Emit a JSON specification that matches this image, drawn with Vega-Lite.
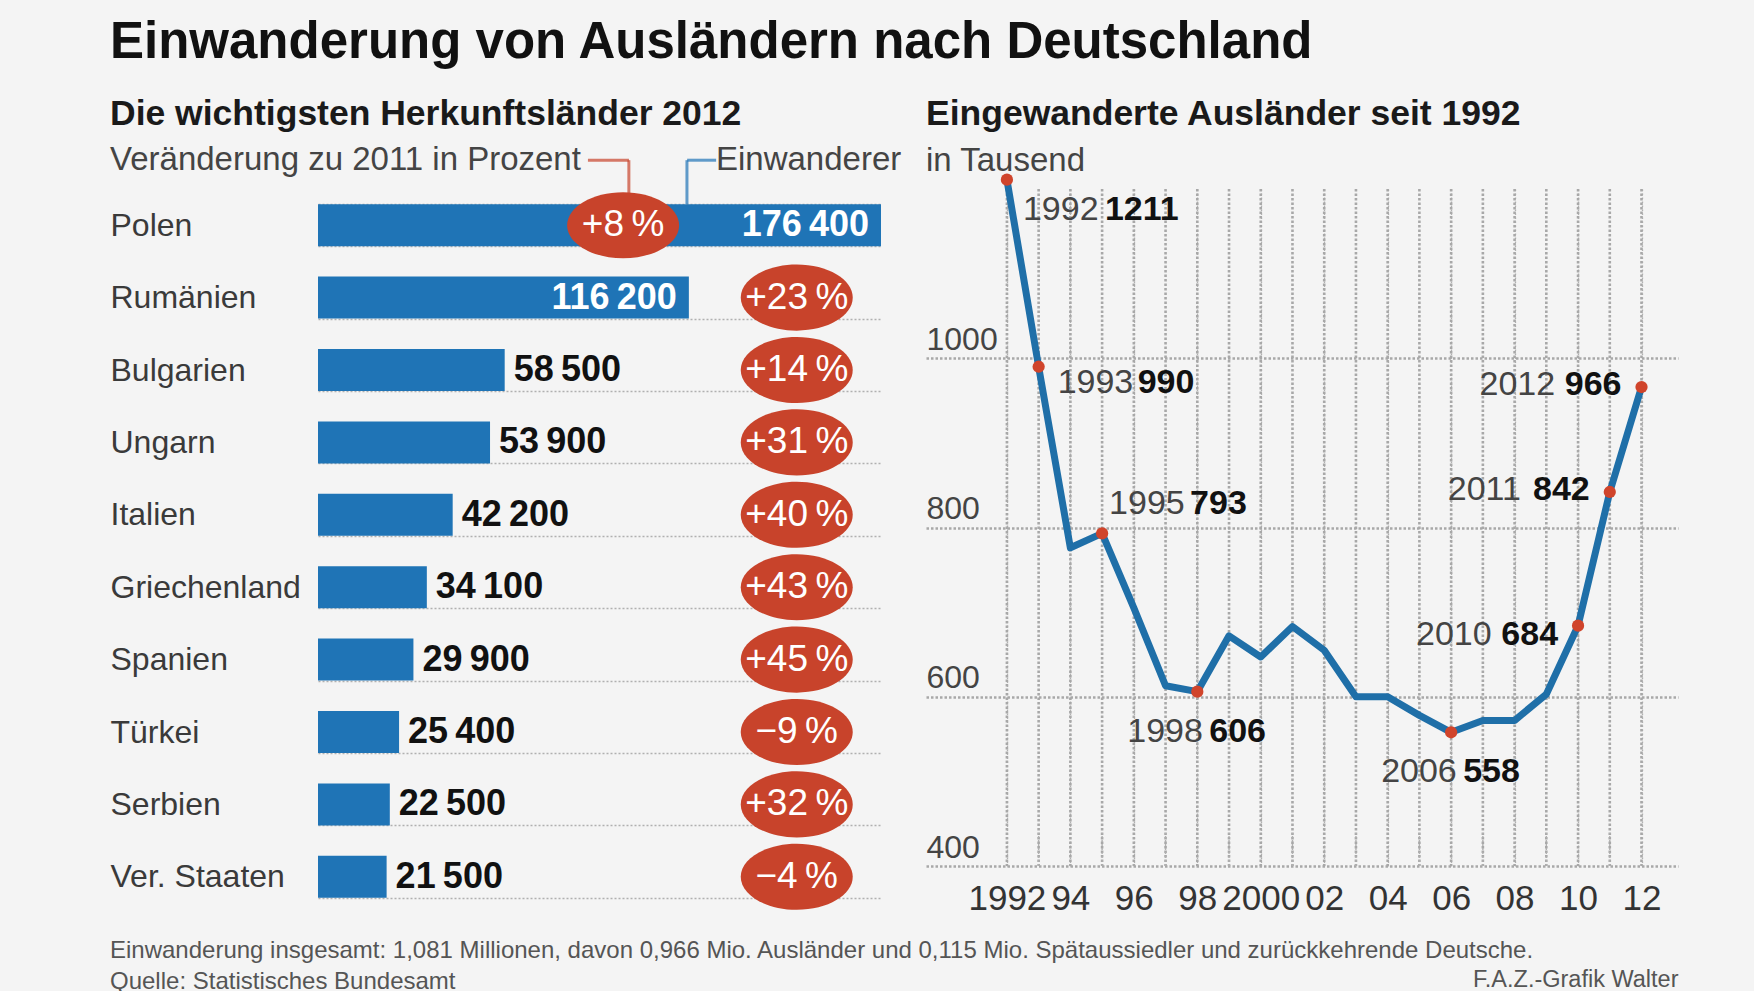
{
  "$schema": "https://vega.github.io/schema/vega-lite/v6.json",
  "background": "#f4f4f4",
  "padding": {"left": 110, "top": 16, "right": 76, "bottom": 0},
  "config": {
    "font": "Liberation Sans",
    "view": {"stroke": null},
    "locale": {"number": {"decimal": ",", "thousands": "\u2009", "grouping": [3], "currency": ["", " €"], "percent": "\u2009%", "minus": "\u2212"}}
  },
  "title": {"text": "Einwanderung von Ausländern nach Deutschland", "anchor": "start", "frame": "group", "fontSize": 51, "fontWeight": "bold", "color": "#111111", "offset": 28},
  "datasets": {
    "laender": [
      {"land": "Polen", "einwanderer": 176400, "veraenderung": 0.08},
      {"land": "Rumänien", "einwanderer": 116200, "veraenderung": 0.23},
      {"land": "Bulgarien", "einwanderer": 58500, "veraenderung": 0.14},
      {"land": "Ungarn", "einwanderer": 53900, "veraenderung": 0.31},
      {"land": "Italien", "einwanderer": 42200, "veraenderung": 0.40},
      {"land": "Griechenland", "einwanderer": 34100, "veraenderung": 0.43},
      {"land": "Spanien", "einwanderer": 29900, "veraenderung": 0.45},
      {"land": "Türkei", "einwanderer": 25400, "veraenderung": -0.09},
      {"land": "Serbien", "einwanderer": 22500, "veraenderung": 0.32},
      {"land": "Ver. Staaten", "einwanderer": 21500, "veraenderung": -0.04}
    ],
    "zuwanderung": [
      {"jahr": 1992, "tsd": 1211},
      {"jahr": 1993, "tsd": 990},
      {"jahr": 1994, "tsd": 776},
      {"jahr": 1995, "tsd": 793},
      {"jahr": 1996, "tsd": 705},
      {"jahr": 1997, "tsd": 613},
      {"jahr": 1998, "tsd": 606},
      {"jahr": 1999, "tsd": 672},
      {"jahr": 2000, "tsd": 647},
      {"jahr": 2001, "tsd": 683},
      {"jahr": 2002, "tsd": 655},
      {"jahr": 2003, "tsd": 600},
      {"jahr": 2004, "tsd": 600},
      {"jahr": 2005, "tsd": 578},
      {"jahr": 2006, "tsd": 558},
      {"jahr": 2007, "tsd": 572},
      {"jahr": 2008, "tsd": 572},
      {"jahr": 2009, "tsd": 603},
      {"jahr": 2010, "tsd": 684},
      {"jahr": 2011, "tsd": 842},
      {"jahr": 2012, "tsd": 966}
    ]
  },
  "vconcat": [
    {
      "bounds": "flush",
      "spacing": 61,
      "title": {
        "text": ["Einwanderung insgesamt: 1,081 Millionen, davon 0,966 Mio. Ausländer und 0,115 Mio. Spätaussiedler und zurückkehrende Deutsche.", "Quelle: Statistisches Bundesamt"],
        "orient": "bottom", "anchor": "start", "frame": "group",
        "fontSize": 24, "fontWeight": "normal", "color": "#555555", "lineHeight": 31, "offset": -52
      },
      "hconcat": [
        {
          "width": 755,
          "height": 724,
          "title": {
            "text": "Die wichtigsten Herkunftsländer 2012",
            "subtitle": "Veränderung zu 2011 in Prozent",
            "anchor": "start", "frame": "group",
            "fontSize": 35.5, "fontWeight": "bold", "color": "#1a1a1a",
            "subtitleFontSize": 33, "subtitleColor": "#444444", "subtitlePadding": 12, "offset": -33
          },
          "data": {"name": "laender"},
          "encoding": {
            "y": {
              "field": "land", "type": "nominal", "sort": null,
              "scale": {"paddingInner": 0.42, "paddingOuter": 0.21},
              "axis": {
                "title": null, "orient": "left", "domain": false, "ticks": false,
                "labelAlign": "left", "labelPadding": 0, "labelFontSize": 32, "labelColor": "#3a3a3a", "labelLimit": 300,
                "grid": true, "tickBand": "extent", "gridColor": "#b0b0b0", "gridDash": [2, 2], "gridWidth": 1.6
              }
            }
          },
          "layer": [
            {
              "mark": {"type": "bar", "color": "#1f74b6"},
              "encoding": {
                "x": {"field": "einwanderer", "type": "quantitative", "scale": {"domain": [0, 176400], "range": [208, 771], "nice": false}, "axis": null}
              }
            },
            {
              "transform": [{"filter": "datum.land == 'Polen'"}],
              "mark": {"type": "tick", "orient": "vertical", "size": 44, "thickness": 3, "color": "#c8432b", "yOffset": -43},
              "encoding": {"x": {"datum": 97400}}
            },
            {
              "transform": [{"filter": "datum.land == 'Polen'"}],
              "mark": {"type": "tick", "orient": "horizontal", "size": 41, "thickness": 3, "color": "#c8432b", "yOffset": -65},
              "encoding": {"x": {"datum": 91000}}
            },
            {
              "transform": [{"filter": "datum.land == 'Polen'"}],
              "mark": {"type": "tick", "orient": "vertical", "size": 44, "thickness": 3, "color": "#1f74b6", "yOffset": -43},
              "encoding": {"x": {"datum": 115600}}
            },
            {
              "transform": [{"filter": "datum.land == 'Polen'"}],
              "mark": {"type": "tick", "orient": "horizontal", "size": 29, "thickness": 3, "color": "#1f74b6", "yOffset": -65},
              "encoding": {"x": {"datum": 120200}}
            },
            {
              "transform": [{"filter": "datum.land == 'Polen'"}],
              "mark": {"type": "text", "align": "left", "baseline": "middle", "dy": -65, "fontSize": 33, "color": "#444444"},
              "encoding": {"x": {"datum": 124700}, "text": {"value": "Einwanderer"}}
            },
            {
              "transform": [{"filter": "datum.land != 'Polen'"}],
              "mark": {"type": "point", "shape": "M-1,0A1,0.59,0,1,1,1,0A1,0.59,0,1,1,-1,0Z", "size": 12544, "filled": true, "color": "#c8432b", "opacity": 1},
              "encoding": {"x": {"datum": 150000}}
            },
            {
              "transform": [{"filter": "datum.land == 'Polen'"}],
              "mark": {"type": "point", "shape": "M-1,0A1,0.59,0,1,1,1,0A1,0.59,0,1,1,-1,0Z", "size": 12544, "filled": true, "color": "#c8432b", "opacity": 1},
              "encoding": {"x": {"datum": 95600}}
            },
            {
              "transform": [{"filter": "datum.land != 'Polen'"}],
              "mark": {"type": "text", "align": "center", "baseline": "middle", "fontSize": 37, "color": "white"},
              "encoding": {"x": {"datum": 150000}, "text": {"field": "veraenderung", "type": "quantitative", "format": "+.0%"}}
            },
            {
              "transform": [{"filter": "datum.land == 'Polen'"}],
              "mark": {"type": "text", "align": "center", "baseline": "middle", "fontSize": 37, "color": "white"},
              "encoding": {"x": {"datum": 95600}, "text": {"field": "veraenderung", "type": "quantitative", "format": "+.0%"}}
            },
            {
              "transform": [{"filter": "datum.einwanderer > 100000"}],
              "mark": {"type": "text", "align": "right", "baseline": "middle", "dx": -12, "fontSize": 36, "fontWeight": "bold", "color": "white"},
              "encoding": {"x": {"field": "einwanderer", "type": "quantitative"}, "text": {"field": "einwanderer", "type": "quantitative", "format": ",d"}}
            },
            {
              "transform": [{"filter": "datum.einwanderer <= 100000"}],
              "mark": {"type": "text", "align": "left", "baseline": "middle", "dx": 9, "fontSize": 36, "fontWeight": "bold", "color": "#111111"},
              "encoding": {"x": {"field": "einwanderer", "type": "quantitative"}, "text": {"field": "einwanderer", "type": "quantitative", "format": ",d"}}
            }
          ]
        },
        {
          "width": 752,
          "height": 677,
          "title": {
            "text": "Eingewanderte Ausländer seit 1992",
            "subtitle": "in Tausend",
            "anchor": "start", "frame": "group",
            "fontSize": 35.5, "fontWeight": "bold", "color": "#1a1a1a",
            "subtitleFontSize": 33, "subtitleColor": "#444444", "subtitlePadding": 12, "offset": -4
          },
          "data": {"name": "zuwanderung"},
          "encoding": {
            "x": {
              "field": "jahr", "type": "quantitative",
              "scale": {"domain": [1989.45, 2013.15], "nice": false, "zero": false},
              "axis": {
                "values": [1992, 1994, 1996, 1998, 2000, 2002, 2004, 2006, 2008, 2010, 2012],
                "format": "d",
                "labelExpr": "datum.value == 1992 || datum.value == 2000 ? '' + datum.value : slice('' + datum.value, 2)",
                "grid": true, "gridColor": "#b0b0b0", "gridDash": [1.5, 2.5], "gridWidth": 1.3,
                "domain": false, "ticks": false, "labelFlush": false, "labelOverlap": false,
                "labelFontSize": 35, "labelColor": "#333333", "labelPadding": 15,
                "title": "F.A.Z.-Grafik Walter", "titleAnchor": "end", "titleFontSize": 23.5, "titleFontWeight": "normal", "titleColor": "#555555", "titlePadding": 51
              }
            },
            "y": {
              "field": "tsd", "type": "quantitative",
              "scale": {"domain": [400, 1200], "nice": false, "zero": false},
              "axis": {
                "values": [400, 600, 800, 1000], "format": "d",
                "grid": true, "gridColor": "#a8a8a8", "gridDash": [2.5, 2], "gridWidth": 2.6,
                "domain": false, "ticks": false, "labelFlush": false, "labelOverlap": false,
                "labelAlign": "left", "labelBaseline": "alphabetic", "labelPadding": 0, "labelOffset": -9,
                "labelFontSize": 32, "labelColor": "#444444", "title": null
              }
            }
          },
          "layer": [
            {
              "mark": {"type": "rule", "color": "#a8a8a8", "strokeWidth": 2.6, "strokeDash": [2.5, 2]},
              "encoding": {"y": {"datum": 1200}}
            },
            {
              "transform": [{"filter": "datum.jahr % 2 == 1"}],
              "mark": {"type": "rule", "color": "#b0b0b0", "strokeWidth": 1.4, "strokeDash": [2, 2]},
              "encoding": {"y": {"datum": 400}, "y2": {"datum": 439}}
            },
            {
              "mark": {"type": "line", "color": "#1f6fa8", "strokeWidth": 7, "strokeJoin": "round"}
            },
            {
              "transform": [{"filter": {"field": "jahr", "oneOf": [1992, 1993, 1995, 1998, 2006, 2010, 2011, 2012]}}],
              "mark": {"type": "circle", "size": 150, "color": "#d0442b", "opacity": 1}
            },
            {
              "transform": [{"filter": "datum.jahr == 1992"}],
              "mark": {"type": "text", "align": "left", "baseline": "middle", "dx": 16, "dy": 30, "fontSize": 34, "color": "#444444"},
              "encoding": {"text": {"field": "jahr", "type": "quantitative", "format": "d"}}
            },
            {
              "transform": [{"filter": "datum.jahr == 1992"}],
              "mark": {"type": "text", "align": "left", "baseline": "middle", "dx": 98, "dy": 30, "fontSize": 34, "fontWeight": "bold", "color": "#111111"},
              "encoding": {"text": {"field": "tsd", "type": "quantitative", "format": "d"}}
            },
            {
              "transform": [{"filter": "datum.jahr == 1993"}],
              "mark": {"type": "text", "align": "left", "baseline": "middle", "dx": 19, "dy": 16, "fontSize": 34, "color": "#444444"},
              "encoding": {"text": {"field": "jahr", "type": "quantitative", "format": "d"}}
            },
            {
              "transform": [{"filter": "datum.jahr == 1993"}],
              "mark": {"type": "text", "align": "left", "baseline": "middle", "dx": 99, "dy": 16, "fontSize": 34, "fontWeight": "bold", "color": "#111111"},
              "encoding": {"text": {"field": "tsd", "type": "quantitative", "format": "d"}}
            },
            {
              "transform": [{"filter": "datum.jahr == 1995"}],
              "mark": {"type": "text", "align": "left", "baseline": "middle", "dx": 7, "dy": -29, "fontSize": 34, "color": "#444444"},
              "encoding": {"text": {"field": "jahr", "type": "quantitative", "format": "d"}}
            },
            {
              "transform": [{"filter": "datum.jahr == 1995"}],
              "mark": {"type": "text", "align": "left", "baseline": "middle", "dx": 88, "dy": -29, "fontSize": 34, "fontWeight": "bold", "color": "#111111"},
              "encoding": {"text": {"field": "tsd", "type": "quantitative", "format": "d"}}
            },
            {
              "transform": [{"filter": {"field": "jahr", "oneOf": [1998, 2006]}}],
              "mark": {"type": "text", "align": "left", "baseline": "middle", "dx": -70, "dy": 40, "fontSize": 34, "color": "#444444"},
              "encoding": {"text": {"field": "jahr", "type": "quantitative", "format": "d"}}
            },
            {
              "transform": [{"filter": {"field": "jahr", "oneOf": [1998, 2006]}}],
              "mark": {"type": "text", "align": "left", "baseline": "middle", "dx": 12, "dy": 40, "fontSize": 34, "fontWeight": "bold", "color": "#111111"},
              "encoding": {"text": {"field": "tsd", "type": "quantitative", "format": "d"}}
            },
            {
              "transform": [{"filter": "datum.jahr == 2010"}],
              "mark": {"type": "text", "align": "left", "baseline": "middle", "dx": -162, "dy": 9, "fontSize": 34, "color": "#444444"},
              "encoding": {"text": {"field": "jahr", "type": "quantitative", "format": "d"}}
            },
            {
              "transform": [{"filter": "datum.jahr == 2010"}],
              "mark": {"type": "text", "align": "right", "baseline": "middle", "dx": -20, "dy": 9, "fontSize": 34, "fontWeight": "bold", "color": "#111111"},
              "encoding": {"text": {"field": "tsd", "type": "quantitative", "format": "d"}}
            },
            {
              "transform": [{"filter": {"field": "jahr", "oneOf": [2011, 2012]}}],
              "mark": {"type": "text", "align": "left", "baseline": "middle", "dx": -162, "dy": -2, "fontSize": 34, "color": "#444444"},
              "encoding": {"text": {"field": "jahr", "type": "quantitative", "format": "d"}}
            },
            {
              "transform": [{"filter": {"field": "jahr", "oneOf": [2011, 2012]}}],
              "mark": {"type": "text", "align": "right", "baseline": "middle", "dx": -20, "dy": -2, "fontSize": 34, "fontWeight": "bold", "color": "#111111"},
              "encoding": {"text": {"field": "tsd", "type": "quantitative", "format": "d"}}
            }
          ]
        }
      ]
    }
  ]
}
